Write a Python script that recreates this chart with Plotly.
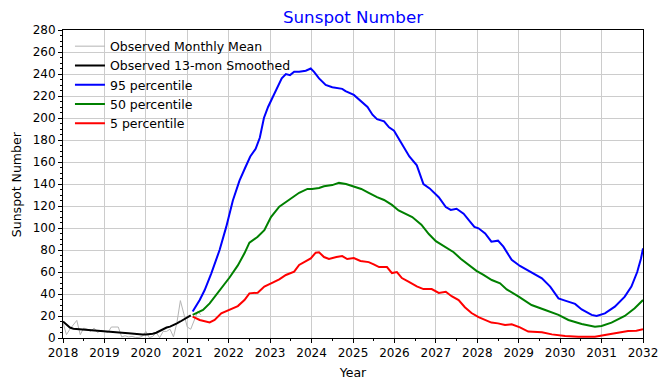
import plotly.graph_objects as go

# Observed monthly mean (decimal year, value)
obs_years = [2018 + m / 12 for m in range(41)]
obs_monthly = [14, 3, 8, 12, 16, 3, 9, 8, 6, 9, 5, 7,
               6, 5, 10, 10, 10, 1, 2, 1, 1.5, 0.5, 0.5, 1.5,
               6, 0.3, 1.5, 5, 0.3, 6, 6, 8, 1, 14, 34, 22,
               10, 8, 17, 24, 21]

# Observed 13-month smoothed
sm_years = [2018 + m / 12 for m in range(38)]
obs_smoothed = [15, 12, 9.5, 8.5, 8.2, 8.0, 7.8, 7.6, 7.5, 7.2, 6.9, 6.6,
                6.2, 5.8, 5.5, 5.2, 5.0, 4.8, 4.6, 4.4, 4.0, 3.6, 3.3, 3.1,
                3.2, 3.4, 3.8, 4.8, 6.3, 8.5, 9.5, 10.3, 11.5, 13.3, 15, 17,
                18.5, 20.5]

# 95 percentile
p95_years = [2021.13, 2021.30, 2021.42, 2021.58, 2021.78, 2021.94, 2022.10, 2022.26,
             2022.40, 2022.52, 2022.65, 2022.75, 2022.85, 2022.95, 2023.05, 2023.15,
             2023.28, 2023.38, 2023.48, 2023.58, 2023.70, 2023.86, 2023.98, 2024.06,
             2024.18, 2024.34, 2024.50, 2024.74, 2024.82, 2025.02, 2025.18, 2025.35,
             2025.47, 2025.58, 2025.75, 2025.87, 2025.99, 2026.10, 2026.27, 2026.36,
             2026.54, 2026.70, 2026.85, 2027.07, 2027.24, 2027.36, 2027.50, 2027.67,
             2027.80, 2027.93, 2028.03, 2028.19, 2028.34, 2028.50, 2028.63, 2028.83,
             2029.03, 2029.23, 2029.56, 2029.76, 2029.90, 2029.96, 2030.12, 2030.36,
             2030.52, 2030.76, 2030.88, 2031.08, 2031.32, 2031.56, 2031.72, 2031.86,
             2031.95, 2032.00]
p95 = [24, 34.5, 43.6, 58.8, 80, 101, 125, 143,
       155, 165, 172, 182, 200, 210, 218, 226,
       236, 240, 239, 242, 242, 243, 245, 242,
       236, 230, 228, 226.5, 224.5, 221, 216, 210,
       203, 199, 197, 191.5, 188.5, 181.5, 171, 165,
       157, 140, 136, 128, 119, 116.4, 117.5, 113,
       107, 101, 99.7, 95, 87.6, 88.5, 83, 71,
       65.5, 61.2, 54.2, 46.7, 39, 36, 34, 31,
       26, 21, 20, 22.4, 28.5, 37.6, 46.7, 60,
       72, 81.5]

# 50 percentile
p50_years = [2021.13, 2021.38, 2021.54, 2021.70, 2021.86, 2022.02, 2022.22, 2022.38,
             2022.50, 2022.70, 2022.86, 2023.02, 2023.22, 2023.46, 2023.70, 2023.90,
             2024.01, 2024.18, 2024.30, 2024.50, 2024.66, 2024.83, 2025.00, 2025.20,
             2025.38, 2025.58, 2025.75, 2025.94, 2026.10, 2026.43, 2026.65, 2026.83,
             2027.00, 2027.19, 2027.43, 2027.60, 2027.80, 2027.98, 2028.15, 2028.35,
             2028.55, 2028.71, 2029.00, 2029.31, 2029.64, 2029.96, 2030.20, 2030.52,
             2030.84, 2031.00, 2031.24, 2031.56, 2031.80, 2032.00]
p50 = [21, 25.5, 31.5, 39, 46.7, 55, 66, 77,
       86.7, 92, 98, 110, 119.4, 125.5, 132, 135.5,
       135.5, 136.4, 138, 139, 141, 140, 138, 135.5,
       132, 128, 125.5, 121, 116, 110, 103, 94.5,
       88, 83.6, 78, 72, 66, 61, 57.3, 52.7,
       49.7, 44.2, 37.6, 30, 25.5, 21, 16.4, 12.7,
       10.3, 10.9, 14, 20, 27, 34.5]

# 5 percentile
p5_years = [2021.13, 2021.30, 2021.54, 2021.66, 2021.82, 2022.02, 2022.22, 2022.38,
            2022.50, 2022.70, 2022.86, 2023.06, 2023.22, 2023.38, 2023.58, 2023.70,
            2023.86, 2023.98, 2024.10, 2024.18, 2024.30, 2024.42, 2024.60, 2024.74,
            2024.86, 2025.02, 2025.18, 2025.38, 2025.50, 2025.63, 2025.82, 2025.94,
            2026.06, 2026.18, 2026.35, 2026.54, 2026.70, 2026.90, 2027.07, 2027.24,
            2027.38, 2027.55, 2027.70, 2027.86, 2028.03, 2028.18, 2028.34, 2028.50,
            2028.67, 2028.83, 2029.03, 2029.23, 2029.56, 2029.80, 2030.12, 2030.44,
            2030.84, 2031.08, 2031.40, 2031.64, 2031.84, 2032.00]
p5 = [19.4, 16.4, 14.2, 16.4, 22.4, 25.5, 29, 34.5,
      40.6, 41.2, 46.7, 50.3, 53.3, 57.3, 60.3, 66.4,
      69.4, 72.4, 77.6, 78, 73.6, 71.8, 73.6, 74.5,
      71.8, 72.7, 70, 69, 67, 64.5, 64.5, 59,
      60, 54.5, 51, 47, 44.5, 44.5, 41, 42,
      38, 34.5, 28, 22.7, 19, 16.4, 14, 13.3,
      11.8, 12.4, 9.7, 5.8, 5.2, 3.3, 1.8, 1.2,
      1.2, 2.7, 4.8, 6.4, 6.7, 7.9]

FONT = "DejaVu Sans"
W, H = 662, 382  # page body has an 8px offset

fig = go.Figure()
fig.add_trace(go.Scatter(x=obs_years, y=obs_monthly, mode="lines",
                         name="Observed Monthly Mean",
                         line=dict(color="#b4b4b4", width=1)))
fig.add_trace(go.Scatter(x=sm_years, y=obs_smoothed, mode="lines",
                         name="Observed 13-mon Smoothed",
                         line=dict(color="black", width=2)))
fig.add_trace(go.Scatter(x=p95_years, y=p95, mode="lines", name="95 percentile",
                         line=dict(color="#0000ff", width=2)))
fig.add_trace(go.Scatter(x=p50_years, y=p50, mode="lines", name="50 percentile",
                         line=dict(color="#008000", width=2)))
fig.add_trace(go.Scatter(x=p5_years, y=p5, mode="lines", name="5 percentile",
                         line=dict(color="#ff0000", width=2)))

axis_common = dict(
    showline=True, linecolor="black", linewidth=1, mirror=True,
    ticks="outside", ticklen=4, tickcolor="black", tickwidth=1,
    showgrid=True, gridcolor="#cccccc", gridwidth=1, zeroline=False,
    tickfont=dict(family=FONT, size=12, color="black"),
)

# legend background patch (narrower than the text, as in the original)
fig.add_shape(type="rect", xref="paper", yref="paper",
              x0=7 / 582, x1=(215 - 63) / 582, y0=1 - 106 / 308, y1=1 - 3 / 308,
              fillcolor="rgba(255,255,255,0.85)", line=dict(width=0), layer="between")

# y-axis title as an annotation for exact placement
fig.add_annotation(text="Sunspot Number", xref="paper", yref="paper",
                   x=(16 - 63) / 582, y=0.5, xanchor="center", yanchor="middle",
                   textangle=-90, showarrow=False,
                   font=dict(family=FONT, size=12.5, color="black"))

fig.update_layout(
    width=W, height=H,
    margin=dict(l=55, r=25, t=22, b=52),
    paper_bgcolor="white", plot_bgcolor="white",
    font=dict(family=FONT, color="black"),
    title=dict(text="Sunspot Number", x=0.5, xref="paper", xanchor="center",
               y=1 - 9 / H, yref="container", yanchor="middle",
               font=dict(family=FONT, size=16.7, color="#0000ff")),
    xaxis=dict(range=[2018, 2032], tick0=2018, dtick=1, tickformat="d",
               title=dict(text="Year", font=dict(family=FONT, size=12.5), standoff=8),
               minor=dict(dtick=0.5, ticks="outside", ticklen=2, tickcolor="black",
                          showgrid=False),
               **axis_common),
    yaxis=dict(range=[0, 280], tick0=0, dtick=20,
               minor=dict(dtick=5, ticks="outside", ticklen=2, tickcolor="black",
                          showgrid=False),
               **axis_common),
    legend=dict(x=0.012, y=0.995, xanchor="left", yanchor="top",
                bgcolor="rgba(0,0,0,0)", borderwidth=0,
                font=dict(family=FONT, size=12.5, color="black"),
                tracegroupgap=0, itemwidth=30),
    showlegend=True,
)

fig.write_html("out.html")
